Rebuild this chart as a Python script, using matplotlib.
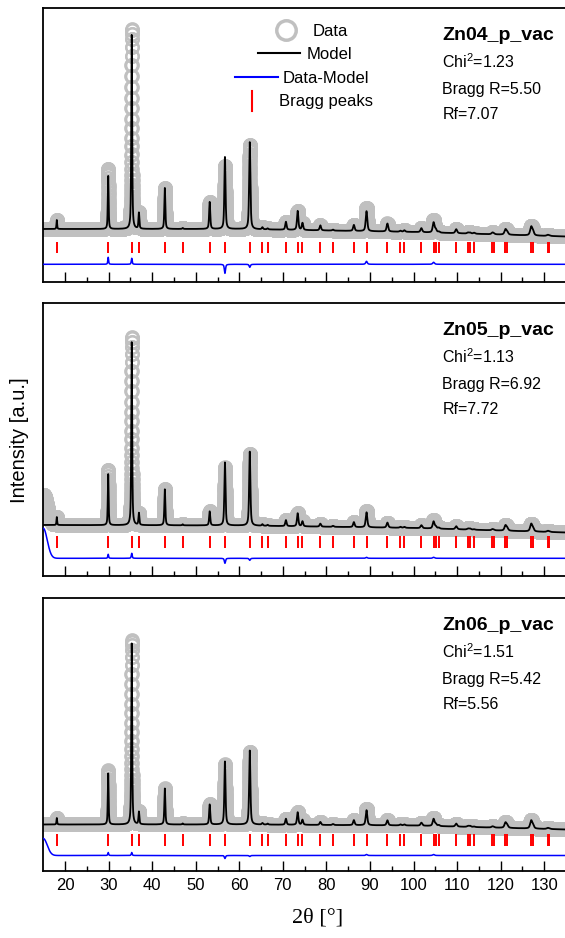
import numpy as np
import matplotlib
matplotlib.use('Agg')
import matplotlib.pyplot as plt
from matplotlib.lines import Line2D

plt.rcParams['font.family'] = ['Liberation Sans', 'DejaVu Sans']
plt.rcParams['mathtext.fontset'] = 'custom'
plt.rcParams['mathtext.rm'] = 'Liberation Sans'
plt.rcParams['mathtext.default'] = 'rm'

# ---------------- data ----------------
tt_min, tt_max, tt_step = 15.0, 135.0, 0.01
samples = ['Zn04_p_vac', 'Zn05_p_vac', 'Zn06_p_vac']
chi2 = ['1.23', '1.13', '1.51']
bragg_r = ['5.50', '6.92', '5.42']
rf = ['7.07', '7.72', '5.56']

bragg_pos = [18.1, 29.9, 35.3, 36.95, 42.9, 47.0, 53.2, 56.7, 62.4, 65.3,
             66.5, 70.7, 73.4, 74.5, 78.6, 81.5, 86.3, 89.2, 94.0, 97.0,
             97.9, 101.8, 104.6, 105.1, 105.8, 109.8, 112.5, 113.0, 113.9,
             118.1, 118.4, 121.1, 121.5, 127.0, 127.4, 130.8, 131.2]

amp_zn04 = [9, 53, 194, 16, 41, 1, 27, 72, 87, 2,
            1, 8, 19, 7, 5, 1, 6, 20, 8, 1,
            1.5, 4, 10, 3, 1, 4, 1, 1, 1,
            1.5, 0.8, 5, 2.5, 8, 4, 1, 0.5]
amp_zn05 = [8, 51, 183, 12, 36, 1, 14, 63, 74, 1.5,
            1, 6, 13, 5, 3, 1, 5, 15, 5, 1,
            1, 3, 7, 2, 1, 3, 1, 1, 0.5,
            1, 0.5, 5, 2.5, 7, 3, 1, 0.5]
amp_zn06 = [6.5, 51, 181, 12.5, 36, 1, 20, 63, 74, 1.5,
            1, 6, 12.5, 5, 3, 1, 5, 15, 5, 1,
            1, 3, 7, 2, 1, 3, 1, 1, 0.5,
            1, 0.5, 5, 2.5, 7.5, 3, 1, 0.5]
amps = [amp_zn04, amp_zn05, amp_zn06]

# background anchor points (2theta, intensity)
bg_tt = [15, 60, 100, 135]
bg_zn04 = [53, 53, 50, 45.5]
bg_zn05 = [51, 50.5, 48, 43.5]
bg_zn06 = [46.5, 46.5, 45.5, 41.5]
bgs = [bg_zn04, bg_zn05, bg_zn06]

# misfits (obs - calc) at selected reflections
misfit_pos = [29.9, 35.3, 56.7, 62.4, 89.2, 104.6]
misfit_zn04 = [7, 6, -9, -3, 3, 2]
misfit_zn05 = [4, 5, -5, -2, 1, 1]
misfit_zn06 = [3, 3, -3, -1, 1, 1]
misfits = [misfit_zn04, misfit_zn05, misfit_zn06]

# low-angle excess (obs) and in difference curve
low_obs = [0, 30, 0]
low_diff = [0, 30, 17]
diff_offset = [17.7, 17.7, 15.5]
tick_lo = [28.7, 27.7, 25.5]
tick_hi = [40.3, 40.0, 37.2]

# ---------------- layout ----------------
W, H = 565, 938
fig = plt.figure(figsize=(W / 100, H / 100), dpi=100)
fx = lambda px: px / W
fy = lambda py: 1 - py / H

left_px, right_px = 43.3, 566.0
panels_px = [(8, 282), (303, 576), (598, 871)]


def pv(x, x0, fwhm, eta=0.6):
    u = (x - x0) / fwhm
    return eta / (1 + 4 * u ** 2) + (1 - eta) * np.exp(-4 * np.log(2) * u ** 2)


def fwhm_of(x0):
    return 0.17 + 0.0035 * (x0 - 15)


x = np.arange(tt_min, tt_max + tt_step / 2, tt_step)

for i, (top, bot) in enumerate(panels_px):
    hpx = bot - top
    ax = fig.add_axes([fx(left_px), fy(bot), (right_px - left_px) / W, hpx / H])
    bg = np.interp(x, bg_tt, bgs[i])
    model = bg.copy()
    for p, a in zip(bragg_pos, amps[i]):
        model += a * pv(x, p, fwhm_of(p))
    mis = np.zeros_like(x)
    for p, a in zip(misfit_pos, misfits[i]):
        mis += a * pv(x, p, fwhm_of(p))
    obs = model + mis + low_obs[i] * np.exp(-((x - 15) / 1.28) ** 2)
    diff = diff_offset[i] + mis + low_diff[i] * np.exp(-((x - 15) / 1.28) ** 2)

    ax.plot(x, obs, 'o', ms=9, mfc='none', mec='#c0c0c0', mew=1.6, zorder=1)
    ax.vlines(bragg_pos, tick_lo[i], tick_hi[i], colors='#ff0000', lw=1.4, zorder=2)
    ax.plot(x, model, '-', color='black', lw=1.3, zorder=3)
    ax.plot(x, diff, '-', color='#0000ff', lw=1.1, zorder=3)

    ax.set_xlim(tt_min, tt_max)
    ax.set_ylim(0, hpx)
    ax.set_xticks(np.arange(20, 135, 10))
    ax.set_xticks(np.arange(25, 135, 10), minor=True)
    ax.tick_params(axis='x', which='major', direction='in', length=7.2, width=1.0,
                   top=False, labelsize=12, pad=5)
    ax.tick_params(axis='x', which='minor', direction='in', length=3.6, width=1.0, top=False)
    ax.tick_params(axis='y', left=False, labelleft=False)
    if i < 2:
        ax.tick_params(axis='x', labelbottom=False)
    for s in ax.spines.values():
        s.set_linewidth(1.3)

    # annotations
    tx = fx(442.5)
    fig.text(tx, fy(top + 25 + 7), samples[i], fontsize=14, fontweight='bold',
             ha='left', va='baseline')
    fig.text(tx, fy(top + 54.5 + 5.7), r'Chi$^{2}$=' + chi2[i], fontsize=11.5,
             ha='left', va='baseline')
    fig.text(tx, fy(top + 80.5 + 5.7), 'Bragg R=' + bragg_r[i], fontsize=11.5,
             ha='left', va='baseline')
    fig.text(tx, fy(top + 105.5 + 5.7), 'Rf=' + rf[i], fontsize=11.5,
             ha='left', va='baseline')

# legend (first panel)
fig.add_artist(Line2D([fx(286)], [fy(30)], marker='o', ms=14, mfc='none',
                      mec='#c0c0c0', mew=2.5, transform=fig.transFigure))
fig.text(fx(313), fy(30 + 6), 'Data', fontsize=12, ha='left', va='baseline')
fig.add_artist(Line2D([fx(258), fx(300)], [fy(53), fy(53)], color='black', lw=1.5,
                      transform=fig.transFigure))
fig.text(fx(307), fy(53 + 6), 'Model', fontsize=12, ha='left', va='baseline')
fig.add_artist(Line2D([fx(235), fx(278)], [fy(77), fy(77)], color='#0000ff', lw=1.5,
                      transform=fig.transFigure))
fig.text(fx(283), fy(77 + 6), 'Data-Model', fontsize=12, ha='left', va='baseline')
fig.add_artist(Line2D([fx(252), fx(252)], [fy(91), fy(111)], color='#ff0000', lw=1.5,
                      transform=fig.transFigure))
fig.text(fx(279), fy(100 + 6), 'Bragg peaks', fontsize=12, ha='left', va='baseline')

# axis labels
fig.text(fx(20), fy(440), 'Intensity [a.u.]', fontsize=14.5, rotation=90,
         ha='center', va='center')
fig.text(fx(318), fy(918), '2θ [°]', fontsize=16, family=['Liberation Serif', 'DejaVu Serif'],
         ha='center', va='center')

fig.savefig('out.png', dpi=100)
